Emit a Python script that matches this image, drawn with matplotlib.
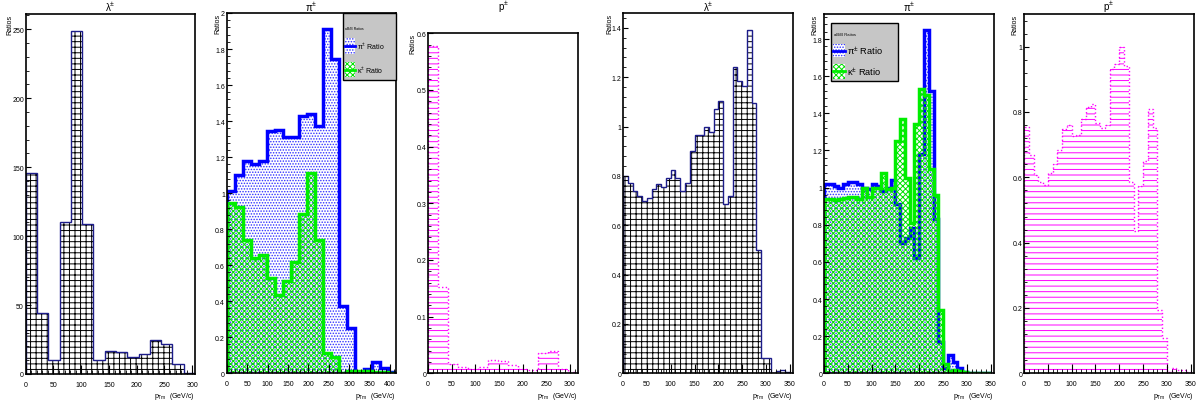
import numpy as np
import matplotlib
matplotlib.use('Agg')
import matplotlib.pyplot as plt
from matplotlib.ticker import MultipleLocator, FuncFormatter
from matplotlib.patches import Rectangle

plt.rcParams['font.family'] = ['Liberation Sans', 'DejaVu Sans']
plt.rcParams['mathtext.default'] = 'regular'
plt.rcParams['hatch.linewidth'] = 0.7

# ---- datos ----
# panel 1: lambda, 15 bins 0-305
lam1 = [146, 44, 10, 110, 249, 109, 10, 17, 16, 12, 14.5, 25, 22, 7, 1]
# panel 2: pi / kappa, 21 bins 0-414
pi1 = [1.01, 1.10, 1.18, 1.16, 1.18, 1.345, 1.35, 1.31, 1.31, 1.43, 1.44,
       1.37, 1.91, 1.745, 0.375, 0.25, 0.005, 0.025, 0.06, 0.03, 0.005]
k1 = [0.945, 0.925, 0.74, 0.64, 0.655, 0.53, 0.435, 0.51, 0.62, 0.885, 1.11,
      0.74, 0.113, 0.09, 0.002, 0.01, 0.015, 0.01, 0.005, 0.005, 0.002]
# panel 3: protones, 15 bins 0-320
p1 = [0.578, 0.152, 0.016, 0.012, 0.008, 0.012, 0.024, 0.021, 0.015, 0.008,
      0.005, 0.035, 0.04, 0.008, 0.003]
# panel 4-6: 35 bins de 10 GeV
lam2 = [0.80, 0.77, 0.74, 0.72, 0.70, 0.71, 0.747, 0.766, 0.754, 0.79, 0.825,
        0.79, 0.74, 0.77, 0.90, 0.966, 0.966, 1.0, 0.977, 1.07, 1.105, 0.686,
        0.72, 1.243, 1.186, 1.163, 1.39, 1.095, 0.50, 0.06, 0.06, 0.002, 0.01,
        0.015, 0.005]
pi2 = [1.02, 1.02, 1.01, 1.0, 1.02, 1.03, 1.03, 1.02, 1.0, 0.99, 1.02, 1.01,
       0.98, 1.0, 1.04, 0.91, 0.70, 0.73, 0.78, 0.62, 1.18, 1.85, 1.52, 0.83,
       0.17, 0.03, 0.10, 0.06, 0.03, 0.005, 0.003, 0.003, 0.003, 0.003, 0.003]
k2 = [0.94, 0.94, 0.935, 0.94, 0.945, 0.95, 0.95, 0.94, 1.0, 0.95, 1.0, 1.0,
      1.08, 0.99, 1.0, 1.25, 1.37, 1.05, 0.81, 1.34, 1.53, 1.50, 1.1, 0.96,
      0.34, 0.05, 0.01, 0.02, 0.01, 0.005, 0.002, 0.002, 0.002, 0.002, 0.002]
p2 = [0.754, 0.667, 0.607, 0.587, 0.576, 0.612, 0.64, 0.683, 0.749, 0.761,
      0.726, 0.73, 0.78, 0.815, 0.825, 0.765, 0.75, 0.76, 0.932, 0.947, 1.0,
      0.942, 0.587, 0.435, 0.572, 0.65, 0.81, 0.75, 0.195, 0.109, 0.005,
      0.015, 0.01, 0.01, 0.005]

W, H = 1198, 410
fig = plt.figure(figsize=(W / 100, H / 100), dpi=100)


def make_ax(l, r, t, b, xmax, ymax, title, ystep, ylab_off):
    ax = fig.add_axes([l / W, 1 - b / H, (r - l) / W, (b - t) / H])
    ax.set_xlim(0, xmax)
    ax.set_ylim(0, ymax)
    ax.xaxis.set_major_locator(MultipleLocator(50))
    ax.xaxis.set_minor_locator(MultipleLocator(10))
    ax.yaxis.set_major_locator(MultipleLocator(ystep))
    ax.yaxis.set_minor_locator(MultipleLocator(ystep / 5))
    fmt = FuncFormatter(lambda v, p: '%g' % round(v, 3))
    ax.yaxis.set_major_formatter(fmt)
    ax.tick_params(which='both', direction='in', top=False, right=False, labelsize=5)
    ax.tick_params(axis='x', which='major', length=6.5, pad=5.0)
    ax.tick_params(axis='x', which='minor', length=3.2)
    ax.tick_params(axis='y', which='major', length=3.6, pad=1.3)
    ax.tick_params(axis='y', which='minor', length=1.8)
    for s in ax.spines.values():
        s.set_linewidth(1.2)
    ax.set_title(title, fontsize=7, pad=0, y=(b - 7) / (b - t), va='center')
    ax.set_ylabel('Ratios', loc='top', fontsize=5, va='center')
    ax.yaxis.set_label_coords(-ylab_off / (r - l), 1.0)
    ax.set_xlabel('p$_{Tm}$  (GeV/c)', loc='right', fontsize=5, va='center')
    ax.xaxis.set_label_coords(1.0, -(397 - b) / (b - t))
    return ax


def hist(ax, vals, xmax, hcol, hatch, lcol, lw, ls='-'):
    edges = np.linspace(0, xmax, len(vals) + 1)
    f = ax.stairs(vals, edges, fill=True, facecolor='none', edgecolor=hcol,
                  hatch=hatch, linewidth=0)
    ax.stairs(vals, edges, color=lcol, linewidth=lw, linestyle=ls)
    return f


def legend(ax, box, title_xy, entries, tsize, esize):
    x0, y0, x1, y1 = box
    ax.add_patch(Rectangle((x0, y0), x1 - x0, y1 - y0, transform=ax.transAxes,
                           facecolor='#c6c6c6', edgecolor='black', linewidth=1.0,
                           zorder=5, clip_on=False))
    ax.text(title_xy[0], title_xy[1], 'aB/B Ratios', transform=ax.transAxes,
            fontsize=tsize, va='center', ha='left', zorder=6)
    for (sx0, sy0, sx1, sy1), hcol, hatch, lcol, label in entries:
        ax.add_patch(Rectangle((sx0, sy0), sx1 - sx0, sy1 - sy0, transform=ax.transAxes,
                               facecolor='white', edgecolor=hcol, hatch=hatch,
                               linewidth=0, zorder=6, clip_on=False))
        ym = (sy0 + sy1) / 2
        ax.plot([sx0, sx1], [ym, ym], color=lcol, lw=2, transform=ax.transAxes,
                zorder=7, clip_on=False)
        ax.text(sx1 + 0.01, ym, label, transform=ax.transAxes, fontsize=esize,
                va='center', ha='left', zorder=7)


GREEN_H = 'xxxxxx'
MAG_H = '---'
BLUE_H = '......'

# panel 1
ax1 = make_ax(25.7, 195, 15, 375, 305, 261, r'$\lambda^{\pm}$', 50, 15.7)
hist(ax1, lam1, 305, 'black', '+++', '#1c1c8a', 1.0)

# panel 2
ax2 = make_ax(226.7, 395.7, 14, 374.3, 414, 2.0, r'$\pi^{\pm}$', 0.2, 8.7)
hist(ax2, pi1, 414, '#3030ff', BLUE_H, '#0000ff', 2.5)
hist(ax2, k1, 414, '#00e000', GREEN_H, '#00ee00', 2.5)
legend(ax2, (0.688, 0.814, 1.0, 1.0), (0.70, 0.959),
       [((0.70, 0.886, 0.76, 0.931), '#3030ff', BLUE_H, '#0000ff', r'$\pi^{\pm}$ Ratio'),
        ((0.70, 0.822, 0.76, 0.864), '#00e000', GREEN_H, '#00ee00', r'$\kappa^{\pm}$ Ratio')],
       2.5, 5)

# panel 3
ax3 = make_ax(428, 578.3, 34.3, 374.3, 318, 0.6, r'$p^{\pm}$', 0.1, 15)
hist(ax3, p1, 318, '#ff00ff', MAG_H, '#ff00ff', 1.0, ':')

# panel 4
ax4 = make_ax(623, 792.7, 14, 374.3, 356, 1.46, r'$\lambda^{\pm}$', 0.2, 13)
hist(ax4, lam2, 350, 'black', '+++', '#1c1c8a', 1.0)

# panel 5
ax5 = make_ax(824, 994, 15, 374.3, 357, 1.935, r'$\pi^{\pm}$', 0.2, 9)
hist(ax5, pi2, 350, '#3030ff', BLUE_H, '#0000ff', 2.5)
hist(ax5, k2, 350, '#00e000', GREEN_H, '#00ee00', 2.5)
legend(ax5, (0.041, 0.814, 0.435, 0.974), (0.059, 0.944),
       [((0.053, 0.880, 0.124, 0.916), '#3030ff', BLUE_H, '#0000ff', r'$\pi^{\pm}$ Ratio'),
        ((0.053, 0.819, 0.124, 0.861), '#00e000', GREEN_H, '#00ee00', r'$\kappa^{\pm}$ Ratio')],
       3, 6.7)

# panel 6
ax6 = make_ax(1024, 1194, 15, 374.3, 357, 1.10, r'$p^{\pm}$', 0.2, 9)
hist(ax6, p2, 350, '#ff00ff', MAG_H, '#ff00ff', 1.0, ':')

fig.savefig('out.png', dpi=100)
